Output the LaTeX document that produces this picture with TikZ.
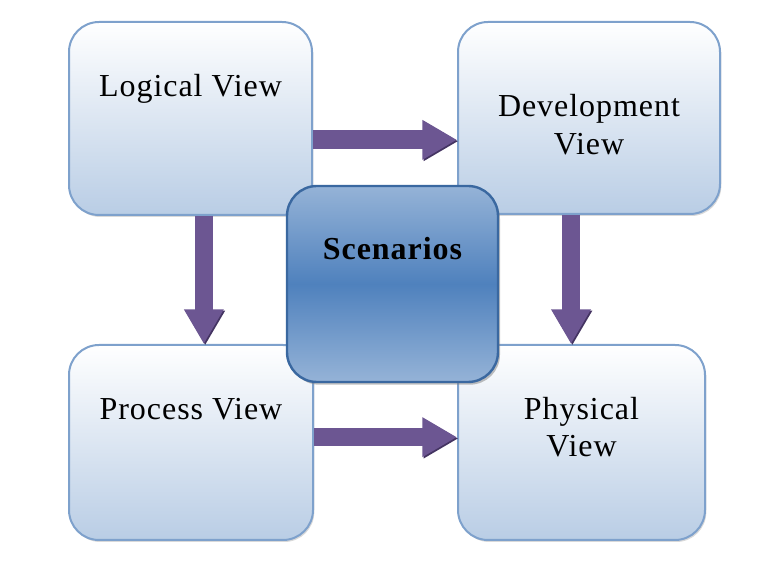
\documentclass[tikz,border=0pt]{standalone}
\usepackage{fontspec}
\setmainfont{Liberation Serif}[LetterSpace=3.0]
\usetikzlibrary{arrows.meta,shadows}
\definecolor{boxline}{RGB}{126,161,204}
\definecolor{boxblue}{RGB}{185,205,229}
\definecolor{scenlight}{RGB}{149,179,215}
\definecolor{scendark}{RGB}{79,129,189}
\definecolor{scenline}{RGB}{58,104,160}
\definecolor{arrowpurple}{RGB}{108,86,146}
\definecolor{arrowshade}{RGB}{68,52,98}
\begin{document}
\begin{tikzpicture}[x=0.75pt,y=-0.75pt,
view/.style={rounded corners=22.5pt,draw=boxline,line width=1.5pt,top color=white,bottom color=boxblue,
  drop shadow={opacity=.3,shadow xshift=1pt,shadow yshift=-1.5pt}},
scen/.style={rounded corners=22.5pt,draw=scenline,line width=1.8pt,top color=scenlight,bottom color=scenlight,middle color=scendark,
  drop shadow={opacity=.5,shadow xshift=1.5pt,shadow yshift=-2pt}},
caption/.style={anchor=base,font=\fontsize{24}{28}\selectfont,align=center},
blockarrow/.style={line width=14pt,arrowpurple,-{Triangle[length=26pt,width=28pt]},
  preaction={draw=arrowshade,transform canvas={xshift=1pt,yshift=-1pt}}}]
\useasboundingbox(0,0)rectangle(761,566);
\node[view,minimum width=182.25pt,minimum height=144.75pt,label={[caption,yshift=-57pt]north:Logical View}](logical)at(190.5,118.5){};
\node[view,minimum width=196.5pt,minimum height=144pt,label={[caption,yshift=-100pt]north:Development\\View}](dev)at(589,118){};
\node[view,minimum width=183pt,minimum height=146.25pt,label={[caption,yshift=-57pt]north:Process View}](process)at(191,442.5){};
\node[view,minimum width=185.25pt,minimum height=146.25pt,label={[caption,yshift=-84.5pt]north:Physical\\View}](physical)at(581.5,442.5){};
\node[scen,minimum width=158.25pt,minimum height=147pt,label={[caption,font=\fontsize{24}{28}\selectfont\bfseries,yshift=-56pt]north:Scenarios}](scen)at(392.5,284){};

\coordinate(a1)at([yshift=-16pt]logical.east);
\coordinate(a2)at([yshift=4pt]process.east);
\coordinate(a3)at([xshift=10pt]logical.south);
\coordinate(a4)at([xshift=-13.5pt]dev.south);
\draw[blockarrow](a1)--(a1-|dev.west);
\draw[blockarrow](a2)--(a2-|physical.west);
\draw[blockarrow](a3)--(a3|-process.north);
\draw[blockarrow](a4)--(a4|-physical.north);
\end{tikzpicture}
\end{document}
